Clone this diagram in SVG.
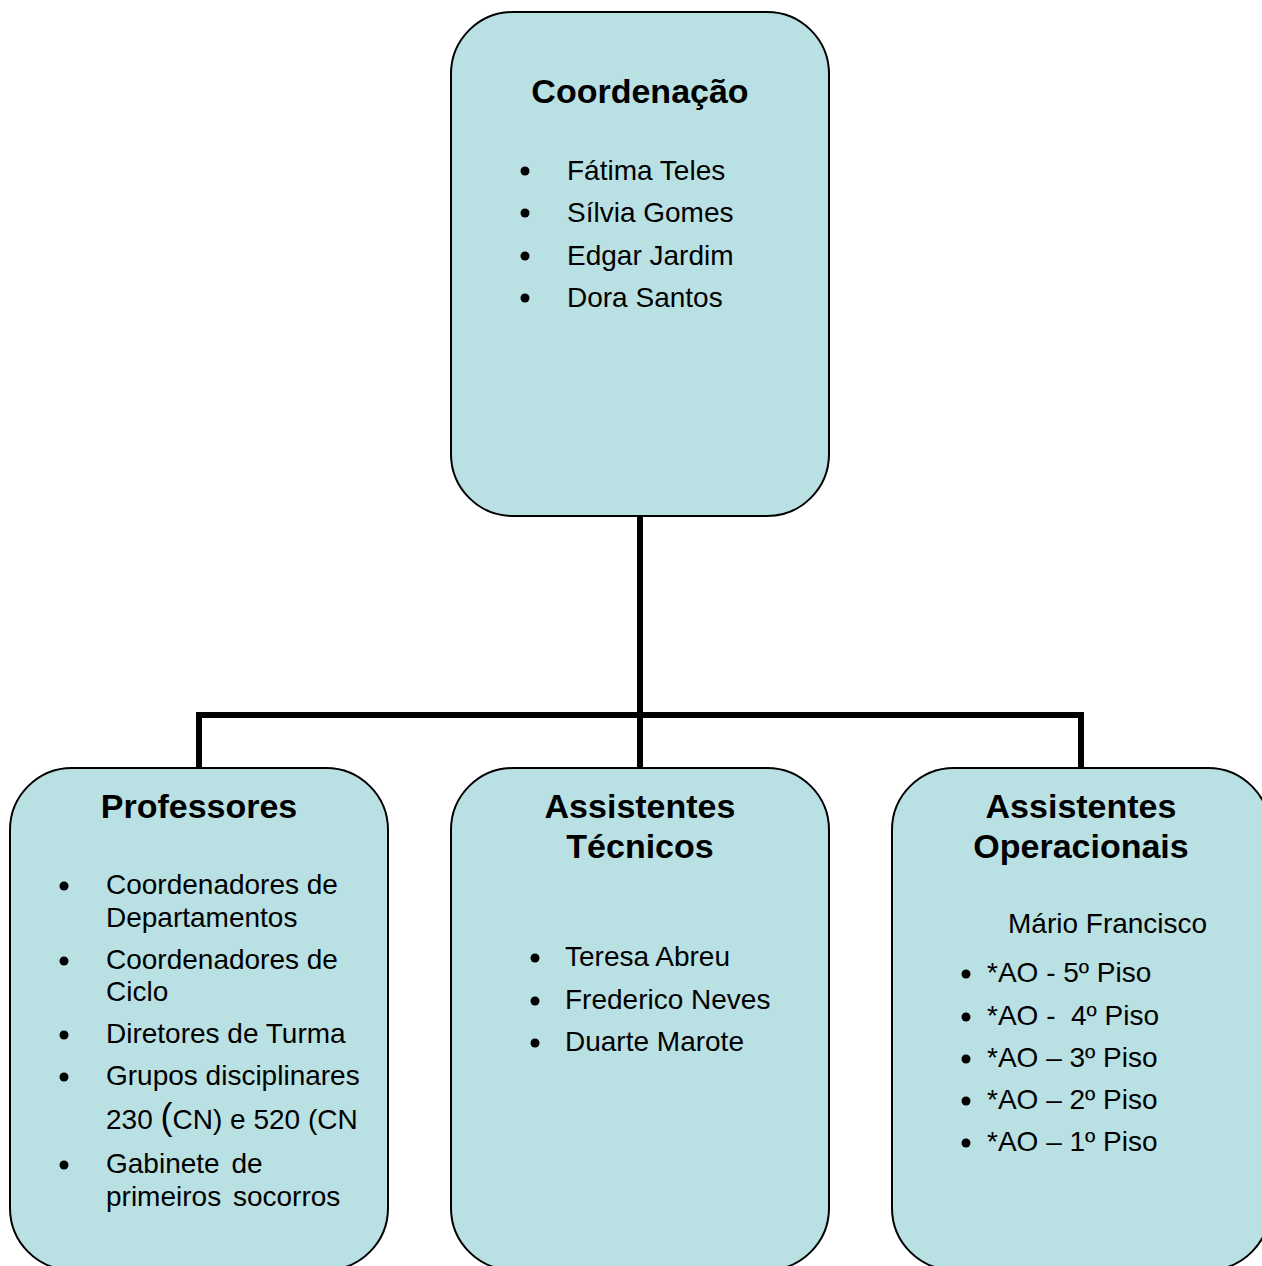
<svg xmlns="http://www.w3.org/2000/svg" width="1262" height="1266" viewBox="0 0 1262 1266">
<style>
.box{fill:#B9E0E3;stroke:#000;stroke-width:2}
.conn{fill:none;stroke:#000;stroke-width:6;stroke-linejoin:miter}
.t{font-family:"Liberation Sans",Arial,sans-serif;font-size:34px;font-weight:bold;fill:#000;text-anchor:middle}
.i{font-family:"Liberation Sans",Arial,sans-serif;font-size:28px;fill:#000}
.b{fill:#000}
</style>
<rect width="1262" height="1266" fill="#fff"/>
<g id="connectors">
<path class="conn" d="M640,516 V715 M199,768 V715 H1081 V768 M640,715 V768"/>
</g>
<g id="coordenacao">
<rect class="box" x="451" y="12" width="378" height="504" rx="62" ry="62"/>
<text class="t" x="640" y="103">Coordenação</text>
<circle class="b" cx="525" cy="171" r="4.5"/>
<circle class="b" cx="525" cy="213" r="4.5"/>
<circle class="b" cx="525" cy="256" r="4.5"/>
<circle class="b" cx="525" cy="298" r="4.5"/>
<text class="i" x="567" y="180">Fátima Teles</text>
<text class="i" x="567" y="222">Sílvia Gomes</text>
<text class="i" x="567" y="265">Edgar Jardim</text>
<text class="i" x="567" y="307">Dora Santos</text>
</g>
<g id="professores">
<rect class="box" x="10" y="768" width="378" height="502" rx="62" ry="62"/>
<text class="t" x="199" y="818">Professores</text>
<circle class="b" cx="64" cy="886" r="4.5"/>
<circle class="b" cx="64" cy="961" r="4.5"/>
<circle class="b" cx="64" cy="1035" r="4.5"/>
<circle class="b" cx="64" cy="1077" r="4.5"/>
<circle class="b" cx="64" cy="1165" r="4.5"/>
<text class="i" x="106" y="894">Coordenadores de</text>
<text class="i" x="106" y="927">Departamentos</text>
<text class="i" x="106" y="969">Coordenadores de</text>
<text class="i" x="106" y="1001">Ciclo</text>
<text class="i" x="106" y="1043">Diretores de Turma</text>
<text class="i" x="106" y="1085">Grupos disciplinares</text>
<text class="i" x="106" y="1129">230 <tspan font-size="36px">(</tspan>CN) e 520 (CN</text>
<text class="i" x="106" y="1173" word-spacing="4">Gabinete de</text>
<text class="i" x="106" y="1206" word-spacing="4">primeiros socorros</text>
</g>
<g id="assistentes-tecnicos">
<rect class="box" x="451" y="768" width="378" height="502" rx="62" ry="62"/>
<text class="t" x="640" y="818">Assistentes</text>
<text class="t" x="640" y="858">Técnicos</text>
<circle class="b" cx="535" cy="958" r="4.5"/>
<circle class="b" cx="535" cy="1001" r="4.5"/>
<circle class="b" cx="535" cy="1043" r="4.5"/>
<text class="i" x="565" y="966">Teresa Abreu</text>
<text class="i" x="565" y="1009">Frederico Neves</text>
<text class="i" x="565" y="1051">Duarte Marote</text>
</g>
<g id="assistentes-operacionais">
<rect class="box" x="892" y="768" width="378" height="502" rx="62" ry="62"/>
<text class="t" x="1081" y="818">Assistentes</text>
<text class="t" x="1081" y="858">Operacionais</text>
<text class="i" x="1008" y="933">Mário Francisco</text>
<circle class="b" cx="966" cy="974" r="4.5"/>
<circle class="b" cx="966" cy="1017" r="4.5"/>
<circle class="b" cx="966" cy="1059" r="4.5"/>
<circle class="b" cx="966" cy="1101" r="4.5"/>
<circle class="b" cx="966" cy="1143" r="4.5"/>
<text class="i" x="987" y="982">*AO - 5º Piso</text>
<text class="i" x="987" y="1025" xml:space="preserve">*AO -  4º Piso</text>
<text class="i" x="987" y="1067">*AO – 3º Piso</text>
<text class="i" x="987" y="1109">*AO – 2º Piso</text>
<text class="i" x="987" y="1151">*AO – 1º Piso</text>
</g>
</svg>
